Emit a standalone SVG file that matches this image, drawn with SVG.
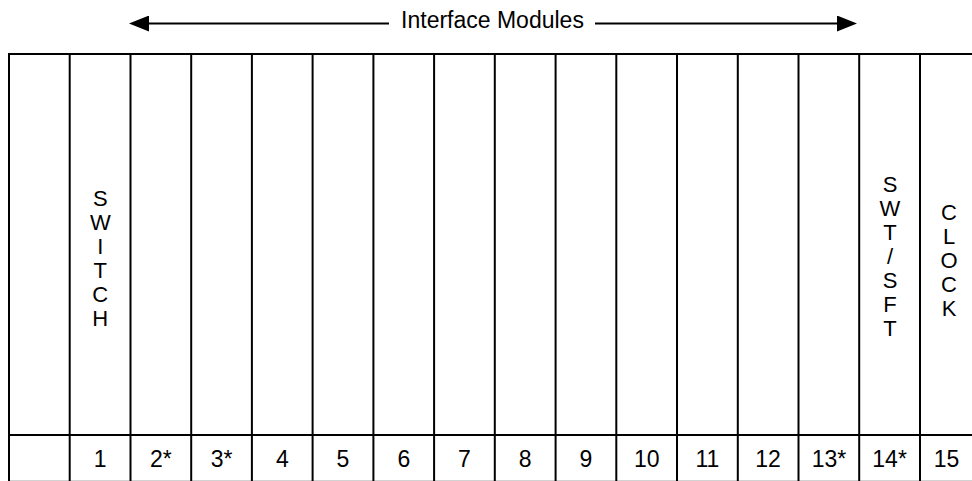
<svg xmlns="http://www.w3.org/2000/svg" width="972" height="481" viewBox="0 0 972 481">
<style>
.ln{stroke:#000;stroke-width:2;fill:none}
.t{font-family:"Liberation Sans",Arial,sans-serif;font-size:23px;fill:#000;text-anchor:middle}
.v{font-family:"Liberation Sans",Arial,sans-serif;font-size:22px;fill:#000;text-anchor:middle}
</style>
<defs>
<marker id="ah" markerUnits="userSpaceOnUse" markerWidth="20" markerHeight="16" refX="0" refY="8" orient="auto" viewBox="0 0 20 16">
<path d="M0,0 L20,8 L0,16 z" fill="#000"/>
</marker>
</defs>
<rect width="972" height="481" fill="#fff"/>
<g id="connectors">
<path class="ln" d="M389,23.5 H149" marker-end="url(#ah)"/>
<path class="ln" d="M595,23.5 H837" marker-end="url(#ah)"/>
</g>
<text class="t" x="492.5" y="28" id="label-interface-modules">Interface Modules</text>
<g id="frame">
<path class="ln" d="M9,481 V54 H972"/>
<path class="ln" d="M9,435 H972"/>
<path d="M9,481.5 H972" stroke="#000" stroke-width="2" opacity="0.35"/>
</g>
<g id="slot-0"><path class="ln" d="M69.7,54 V481"/></g>
<g id="slot-1"><path class="ln" d="M130.5,54 V481"/>
<text class="v" x="100.3" y="206"><tspan x="100.3">S</tspan><tspan x="100.3" dy="24">W</tspan><tspan x="100.3" dy="24">I</tspan><tspan x="100.3" dy="24">T</tspan><tspan x="100.3" dy="24">C</tspan><tspan x="100.3" dy="24">H</tspan></text>
<text class="t" x="100.1" y="467">1</text></g>
<g id="slot-2"><path class="ln" d="M191.2,54 V481"/><text class="t" x="160.9" y="467">2*</text></g>
<g id="slot-3"><path class="ln" d="M251.9,54 V481"/><text class="t" x="221.6" y="467">3*</text></g>
<g id="slot-4"><path class="ln" d="M312.6,54 V481"/><text class="t" x="282.3" y="467">4</text></g>
<g id="slot-5"><path class="ln" d="M373.4,54 V481"/><text class="t" x="343" y="467">5</text></g>
<g id="slot-6"><path class="ln" d="M434.1,54 V481"/><text class="t" x="403.8" y="467">6</text></g>
<g id="slot-7"><path class="ln" d="M494.8,54 V481"/><text class="t" x="464.5" y="467">7</text></g>
<g id="slot-8"><path class="ln" d="M555.6,54 V481"/><text class="t" x="525.2" y="467">8</text></g>
<g id="slot-9"><path class="ln" d="M616.3,54 V481"/><text class="t" x="586" y="467">9</text></g>
<g id="slot-10"><path class="ln" d="M677,54 V481"/><text class="t" x="646.7" y="467">10</text></g>
<g id="slot-11"><path class="ln" d="M737.8,54 V481"/><text class="t" x="707.4" y="467">11</text></g>
<g id="slot-12"><path class="ln" d="M798.5,54 V481"/><text class="t" x="768.1" y="467">12</text></g>
<g id="slot-13"><path class="ln" d="M859.2,54 V481"/><text class="t" x="828.9" y="467">13*</text></g>
<g id="slot-14"><path class="ln" d="M920,54 V481"/>
<text class="v" x="890" y="192"><tspan x="890">S</tspan><tspan x="890" dy="24">W</tspan><tspan x="890" dy="24">T</tspan><tspan x="890" dy="24">/</tspan><tspan x="890" dy="24">S</tspan><tspan x="890" dy="24">F</tspan><tspan x="890" dy="24">T</tspan></text>
<text class="t" x="889.6" y="467">14*</text></g>
<g id="slot-15">
<text class="v" x="949" y="220"><tspan x="949">C</tspan><tspan x="949" dy="24">L</tspan><tspan x="949" dy="24">O</tspan><tspan x="949" dy="24">C</tspan><tspan x="949" dy="24">K</tspan></text>
<text class="t" x="946.5" y="467">15</text></g>
</svg>
